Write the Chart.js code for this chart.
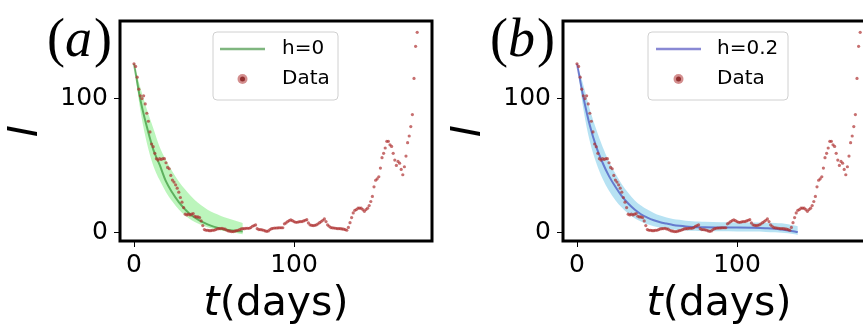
<!DOCTYPE html>
<html>
<head>
<meta charset="utf-8">
<script src="https://cdn.jsdelivr.net/npm/chart.js@4/dist/chart.umd.min.js"></script>
<style>
  html, body { margin: 0; padding: 0; background: #fff; overflow: hidden; }
  #wrap { position: relative; width: 863px; height: 324px; overflow: hidden; }
  .panel { position: absolute; top: 0; width: 443px; height: 324px; }
</style>
</head>
<body>
<div id="wrap">
  <div class="panel" style="left:0"><canvas id="chartA" width="443" height="324"></canvas></div>
  <div class="panel" style="left:443px"><canvas id="chartB" width="443" height="324"></canvas></div>
</div>
<script>
// infected count per day, day 0 .. 177
const infected = [
  126, 124, 116, 107, 102, 100, 102, 96, 89, 83,
  75, 66, 64, 59, 55, 54, 55, 54.5, 55, 55,
  52, 48.5, 47.5, 42.5, 39, 37.5, 35.5, 33, 30, 26,
  22.5, 18.5, 13.5, 13, 13.5, 13, 13.5, 14, 12, 11.5,
  11.5, 11, 8.5, 5, 2, 1.5, 1.5, 1.2, 1.2, 1.5,
  1.5, 2, 2.5, 2.7, 2.8, 3, 2.5, 2.3, 1.5, 1,
  0.8, 0.5, 0.5, 0.8, 1.2, 1.5, 2, 2.5, 2.7, 2.7,
  3, 3, 3, 3.5, 4.5, 5, 5.5, 2.7, 2, 2,
  1.8, 1.5, 1, 0.7, 1, 2, 2.7, 3, 3.2, 3.2,
  3.3, 3.4, 3.4, 3.4, 6.3, 7, 8, 8.7, 9.3, 8.7,
  8, 7.5, 7.5, 7.8, 8, 8, 8.5, 9, 9.4, 7,
  5.6, 5.2, 5, 5.2, 5.6, 6.3, 7.2, 8, 9, 10,
  8, 5.6, 4.5, 3.5, 3.3, 3.2, 3, 2.8, 2.8, 2.7,
  2.5, 2.3, 2, 1.5, 3.6, 7.2, 11, 14.5, 16.4, 17,
  18, 18, 18, 17, 15.7, 17, 18, 20, 23, 26.8,
  34, 38.9, 40, 41.5, 48, 55.8, 59, 63, 68, 68,
  65.4, 64.2, 59, 54, 50, 53, 51.7, 47, 43, 49,
  57, 67, 72, 79, 88, 115, 139, 149.5
];

// fit h=0
const fitDaysA = [0, 4, 8, 12, 16, 20, 24, 28, 32, 36, 40, 44, 48, 52, 56, 60, 64, 68];
const fitA      = [126, 99, 79, 62, 50.5, 38, 29.5, 22.5, 17, 12.5, 9.5, 7, 5, 3.5, 2.3, 1.5, 1, 0.6];
const fitUpperA = [126, 108, 92, 78, 64, 54, 45.5, 38, 32, 26.5, 22, 18.5, 15.5, 13.5, 11.5, 10, 8.5, 7];
const fitLowerA = [126, 91, 67, 50, 39, 30, 23, 17, 12.5, 9, 6.5, 4.5, 3, 1.8, 1, 0.3, -0.5, -1.5];

// fit h=0.2
const fitDaysB = [0, 4, 8, 12, 16, 20, 24, 28, 32, 36, 40, 44, 48, 52, 56, 60, 64, 68, 72, 76,
                  80, 90, 100, 110, 118, 124, 128, 132, 136, 138];
const fitB      = [126, 101, 80, 64, 52, 42, 34, 27, 21.5, 17, 13.5, 11, 9, 7.5, 6.5, 5.5, 4.8, 4.3, 4, 3.8,
                   3.7, 3.6, 3.5, 3.3, 3, 2.6, 2, 1.3, 0.5, 0.2];
const fitUpperB = [126, 110, 92, 77, 64, 53, 44, 36, 29.5, 24, 20, 17, 14.5, 12.5, 11, 10, 9.3, 8.7, 8.3, 8,
                   7.8, 7.5, 7.4, 7.3, 7.2, 7, 6.7, 6, 5, 4.5];
const fitLowerB = [126, 92, 68, 52, 40, 31, 24, 18.5, 14, 10.5, 8, 6, 4.5, 3.3, 2.5, 2, 1.6, 1.3, 1.1, 1,
                   0.9, 0.7, 0.6, 0.5, 0.3, 0, -0.3, -0.8, -1.5, -2];

const xTicks = [0, 100];
const yTicks = [0, 100];

const dotColor = 'rgba(175, 50, 50, 0.7)';

function pairs(xs, ys) {
  return xs.map((x, i) => ({ x: x, y: ys[i] }));
}

// frame, tag, x title and legend
const decor = {
  id: 'decor',
  afterDatasetsDraw(chart, args, opts) {
    const ctx = chart.ctx;
    const a = chart.chartArea;
    ctx.save();
    ctx.strokeStyle = '#000';
    ctx.lineWidth = 3;
    ctx.strokeRect(a.left, a.top, a.right - a.left, a.bottom - a.top);

    // legend
    const lg = opts.legend;
    const bx = a.left + lg.x, by = a.top + 11, bw = lg.w, bh = 68;
    ctx.beginPath();
    ctx.roundRect(bx, by, bw, bh, 4);
    ctx.fillStyle = 'rgba(255,255,255,0.85)';
    ctx.fill();
    ctx.strokeStyle = '#d0d0d0';
    ctx.lineWidth = 1;
    ctx.stroke();

    const fitSet = chart.data.datasets[1];
    const row1 = a.top + 28, row2 = a.top + 58;
    ctx.beginPath();
    ctx.moveTo(a.left + lg.lineX, row1);
    ctx.lineTo(a.left + lg.lineX + 45, row1);
    ctx.strokeStyle = fitSet.borderColor;
    ctx.lineWidth = 2.5;
    ctx.stroke();

    const mx = a.left + lg.lineX + 22.5;
    ctx.beginPath();
    ctx.arc(mx, row2, 5, 0, Math.PI * 2);
    ctx.fillStyle = 'rgba(175, 50, 50, 0.55)';
    ctx.fill();
    ctx.beginPath();
    ctx.arc(mx, row2, 2.5, 0, Math.PI * 2);
    ctx.fillStyle = 'rgba(130, 25, 25, 0.8)';
    ctx.fill();

    ctx.fillStyle = '#000';
    ctx.font = '20px "DejaVu Sans"';
    ctx.textBaseline = 'middle';
    ctx.textAlign = 'left';
    ctx.fillText(fitSet.label, a.left + lg.textX, row1);
    ctx.fillText(chart.data.datasets[0].label, a.left + lg.textX, row2);
    ctx.restore();
  },
  afterDraw(chart, args, opts) {
    const ctx = chart.ctx;
    const a = chart.chartArea;
    ctx.save();
    ctx.fillStyle = '#000';
    ctx.textBaseline = 'alphabetic';
    ctx.textAlign = 'left';

    // panel tag like (a)
    const open = '(', close = ')';
    ctx.font = '54px "Liberation Serif"';
    const wOpen = ctx.measureText(open).width;
    ctx.font = 'italic 54px "Liberation Serif"';
    const wTag = ctx.measureText(opts.tag).width;
    let x = 47;
    ctx.font = '54px "Liberation Serif"';
    ctx.fillText(open, x, 56);
    x += wOpen;
    ctx.font = 'italic 54px "Liberation Serif"';
    ctx.fillText(opts.tag, x, 56);
    x += wTag + 2;
    ctx.font = '54px "Liberation Serif"';
    ctx.fillText(close, x, 56);

    // x title: t(days)
    ctx.font = 'italic 41px "DejaVu Sans"';
    const wt = ctx.measureText('t').width;
    ctx.font = '41px "DejaVu Sans"';
    const wd = ctx.measureText('(days)').width;
    const sx = (a.left + a.right) / 2 - (wt + wd) / 2;
    ctx.font = 'italic 41px "DejaVu Sans"';
    ctx.fillText('t', sx, 315);
    ctx.font = '41px "DejaVu Sans"';
    ctx.fillText('(days)', sx + wt, 315);
    ctx.restore();
  }
};

function buildPanel(canvasId, fit) {
  const ctx = document.getElementById(canvasId).getContext('2d');
  const tickFont = { family: 'DejaVu Sans', size: 25 };
  return new Chart(ctx, {
    type: 'line',
    data: {
      datasets: [
        {
          label: 'Data',
          type: 'scatter',
          data: infected.map((v, i) => ({ x: i, y: v })),
          pointRadius: 1.6,
          pointBackgroundColor: dotColor,
          pointBorderWidth: 0,
          showLine: false,
          order: 0
        },
        {
          label: fit.label,
          data: pairs(fit.days, fit.mid),
          borderColor: fit.lineColor,
          borderWidth: 2,
          pointRadius: 0,
          cubicInterpolationMode: 'monotone',
          fill: false,
          order: 1
        },
        {
          label: 'upper',
          data: pairs(fit.days, fit.upper),
          borderWidth: 0,
          pointRadius: 0,
          cubicInterpolationMode: 'monotone',
          fill: '+1',
          backgroundColor: fit.bandColor,
          order: 2
        },
        {
          label: 'lower',
          data: pairs(fit.days, fit.lower),
          borderWidth: 0,
          pointRadius: 0,
          cubicInterpolationMode: 'monotone',
          fill: false,
          order: 3
        }
      ]
    },
    options: {
      responsive: false,
      animation: false,
      layout: { padding: { top: 14, right: 11, left: 0, bottom: 0 } },
      plugins: {
        legend: { display: false },
        tooltip: { enabled: false },
        decor: { tag: fit.tag, legend: fit.legend }
      },
      scales: {
        x: {
          type: 'linear',
          min: -8.75,
          max: 186.25,
          afterBuildTicks: s => { s.ticks = xTicks.map(v => ({ value: v })); },
          afterFit: s => { s.height = 83; },
          grid: { drawOnChartArea: false, drawTicks: true, tickLength: 6, tickColor: '#000', tickWidth: 1 },
          border: { display: false },
          ticks: { font: tickFont, color: '#000', padding: 3, maxRotation: 0, autoSkip: false }
        },
        y: {
          min: -6.52,
          max: 157.97,
          afterBuildTicks: s => { s.ticks = yTicks.map(v => ({ value: v })); },
          afterFit: s => { s.width = 120; },
          grid: { drawOnChartArea: false, drawTicks: true, tickLength: 6, tickColor: '#000', tickWidth: 1 },
          border: { display: false },
          ticks: { font: tickFont, color: '#000', padding: 6, autoSkip: false },
          title: {
            display: true,
            text: 'I',
            color: '#000',
            font: { family: 'DejaVu Sans', size: 40, style: 'italic' },
            padding: { top: 3, bottom: 0 }
          }
        }
      }
    },
    plugins: [decor]
  });
}

buildPanel('chartA', {
  tag: 'a',
  label: 'h=0',
  days: fitDaysA, mid: fitA, upper: fitUpperA, lower: fitLowerA,
  lineColor: 'rgba(0, 110, 0, 0.5)',
  bandColor: 'rgba(144, 238, 144, 0.6)',
  legend: { x: 93, w: 125, lineX: 100, textX: 162 }
});

buildPanel('chartB', {
  tag: 'b',
  label: 'h=0.2',
  days: fitDaysB, mid: fitB, upper: fitUpperB, lower: fitLowerB,
  lineColor: 'rgba(20, 20, 170, 0.5)',
  bandColor: 'rgba(135, 206, 235, 0.6)',
  legend: { x: 85, w: 140, lineX: 93, textX: 154 }
});
</script>
</body>
</html>
